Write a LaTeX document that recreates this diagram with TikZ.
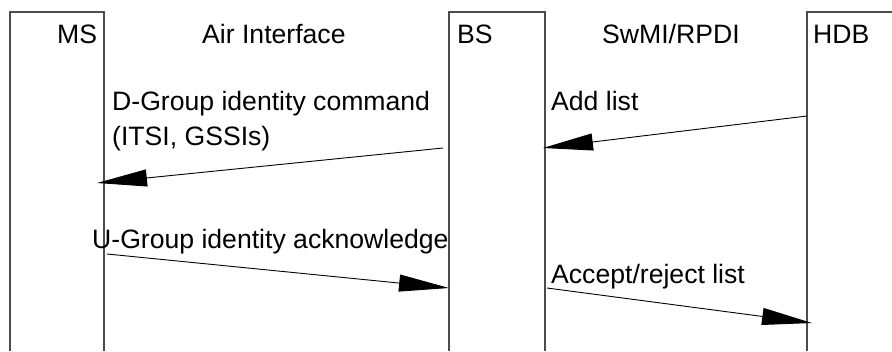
\documentclass[tikz,border=0pt]{standalone}
\usepackage{fontspec}
\setmainfont{Liberation Sans}
\usetikzlibrary{arrows.meta}
\begin{document}
\begin{tikzpicture}[x=1pt,y=-1pt,
  lifeline/.style={draw=black!70,line width=1.1pt},
  lbl/.style={anchor=base west,inner sep=0pt,font=\fontsize{26.6}{32}\selectfont},
  msg/.style={draw=black,line width=0.9pt,-{Triangle[length=50pt,width=17pt]}}]
\useasboundingbox (0,0) rectangle (892,351);
% lifeline boxes
\draw[lifeline] (10,351) -- (10,12) -- (104,12) -- (104,351);
\draw[lifeline] (449,351) -- (449,12) -- (545,12) -- (545,351);
\draw[lifeline] (807,351) -- (807,12) -- (892,12);
% headers
\node[lbl] (ms) at (57,43) {MS};
\node[lbl] (air) at (202,43) {Air Interface};
\node[lbl] (bs) at (457,43) {BS};
\node[lbl] (swmi) at (602,43) {SwMI/RPDI};
\node[lbl] (hdb) at (813,43) {HDB};
% message end points
\coordinate (d1) at (443,148);
\coordinate (d2) at (97,183);
\coordinate (a1) at (807,116);
\coordinate (a2) at (543,148);
\coordinate (u1) at (107,254);
\coordinate (u2) at (449,288);
\coordinate (r1) at (547,288);
\coordinate (r2) at (812,323);
% messages
\draw[msg] (d1) -- (d2);
\draw[msg] (a1) -- (a2);
\draw[msg] (u1) -- (u2);
\draw[msg] (r1) -- (r2);
% labels
\node[lbl] (dl1) at (112,110) {D-Group identity command};
\node[lbl] (dl2) at (112,145) {(ITSI, GSSIs)};
\node[lbl] (al) at (551,110) {Add list};
\node[lbl] (ul) at (92,248) {U-Group identity acknowledge};
\node[lbl] (rl) at (551,283) {Accept/reject list};
\end{tikzpicture}
\end{document}
